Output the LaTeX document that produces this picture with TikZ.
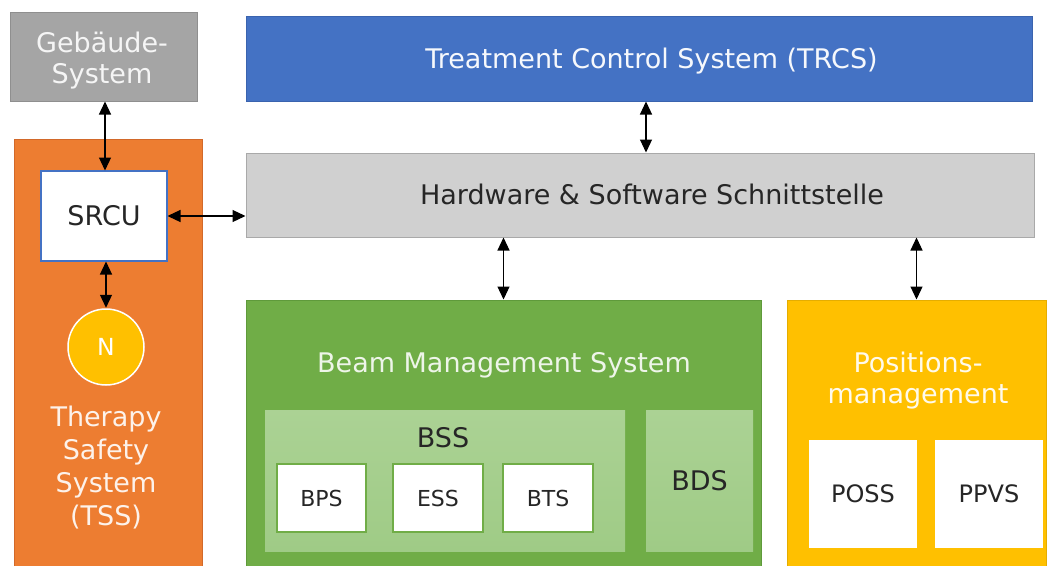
\documentclass[tikz,border=0pt]{standalone}
\usepackage{fontspec}
\setmainfont{DejaVu Sans}
\usetikzlibrary{arrows.meta}
\definecolor{cgray}{HTML}{A5A5A5}
\definecolor{cgrayd}{HTML}{8F8F8F}
\definecolor{cblue}{HTML}{4472C4}
\definecolor{cblued}{HTML}{3A63AE}
\definecolor{chw}{HTML}{D0D0D0}
\definecolor{chwd}{HTML}{A9A9A9}
\definecolor{corange}{HTML}{ED7D31}
\definecolor{coranged}{HTML}{D2692A}
\definecolor{cgreen}{HTML}{70AD47}
\definecolor{cgreend}{HTML}{5F9A3B}
\definecolor{clgreen}{HTML}{ABD294}
\definecolor{clgreenb}{HTML}{9FCB86}
\definecolor{cyellow}{HTML}{FFC000}
\definecolor{cyellowd}{HTML}{E5AD00}
\definecolor{ctext}{HTML}{262626}
\begin{document}
\begin{tikzpicture}[x=1pt,y=-1pt,
  big/.style={font=\fontsize{27}{32}\selectfont,text height=19.7pt,text depth=0pt},
  bigm/.style={font=\fontsize{27}{31.5}\selectfont},
  mid/.style={font=\fontsize{24}{29}\selectfont,text height=17.5pt,text depth=0pt},
  small/.style={font=\fontsize{22}{26}\selectfont,text height=16pt,text depth=0pt},
  box/.style={rectangle,inner sep=0pt,outer sep=0pt,align=center,line width=1pt},
  arr/.style={{Triangle[width=12pt,length=13pt]}-{Triangle[width=12pt,length=13pt]},line width=1.2pt,black,shorten <=0.5pt,shorten >=0.5pt}
]
\useasboundingbox (0,0) rectangle (1048,565);
\clip (0,0) rectangle (1048,565);
\fill[white] (0,0) rectangle (1048,565);

% top level
\node[box,fill=cgray,draw=cgrayd,minimum width=187pt,minimum height=89pt] (geb) at (103.5,56.5) {};
\node[box,bigm,text=white!92!gray,anchor=base] (geblabel) at (102,83.5) {Gebäude-\\System};
\node[box,big,fill=cblue,draw=cblued,text=white!95!cblue,minimum width=786pt,minimum height=85pt] (trcs) at (639,58.5) {\hspace*{25pt}Treatment Control System (TRCS)};
\node[box,big,fill=chw,draw=chwd,text=ctext,minimum width=788pt,minimum height=84pt] (hw) at (640,195) {\hspace*{24pt}Hardware \& Software Schnittstelle};

% TSS
\node[box,fill=corange,draw=coranged,minimum width=188pt,minimum height=441pt] (tss) at (108,359.5) {};
\node[box,big,fill=white,draw=cblue,line width=1.3pt,text=ctext,minimum width=126pt,minimum height=90pt] (srcu) at (104,216) {SRCU};
\node[circle,inner sep=0pt,font=\fontsize{23.5}{28}\selectfont,text height=17pt,text depth=0pt,fill=cyellow,draw=white,line width=1.5pt,text=white,minimum size=76pt] (n) at (106,347) {N};
\node[box,font=\fontsize{27}{32.7}\selectfont,text=white!90!corange,anchor=base] (tsslabel) at (106,525) {Therapy\\Safety\\System\\(TSS)};

% BMS
\node[box,fill=cgreen,draw=cgreend,minimum width=515pt,minimum height=280pt] (bms) at (503.5,440) {};
\node[box,bigm,text=white!88!cgreen,anchor=base] (bmslabel) at (504,372) {Beam Management System};
\node[box,top color=clgreen,bottom color=clgreenb,draw=none,minimum width=360pt,minimum height=141pt] (bss) at (445,480.5) {};
\node[box,bigm,text=ctext,anchor=base] (bsslabel) at (443,447) {BSS};
\node[box,small,fill=white,draw=cgreen,line width=1.5pt,text=ctext,minimum width=89pt,minimum height=68pt] (bps) at (321.5,498) {BPS};
\node[box,small,fill=white,draw=cgreen,line width=1.5pt,text=ctext,minimum width=90pt,minimum height=68pt] (ess) at (438,498) {ESS};
\node[box,small,fill=white,draw=cgreen,line width=1.5pt,text=ctext,minimum width=90pt,minimum height=68pt] (bts) at (548,498) {BTS};
\node[box,big,top color=clgreen,bottom color=clgreenb,draw=none,text=ctext,minimum width=107pt,minimum height=141pt] (bds) at (699.5,480.5) {BDS};

% Positionsmanagement
\node[box,fill=cyellow,draw=cyellowd,minimum width=259pt,minimum height=280pt] (pos) at (916.5,440) {};
\node[box,font=\fontsize{27}{31}\selectfont,text=white!92!cyellow,anchor=base] (poslabel) at (918,403) {Positions-\\management};
\node[box,mid,fill=white,draw=none,text=ctext,minimum width=108pt,minimum height=108pt] (poss) at (863,494) {POSS};
\node[box,mid,fill=white,draw=none,text=ctext,minimum width=108pt,minimum height=108pt] (ppvs) at (989,494) {PPVS};

% connectors
\draw[arr] ([xshift=1.5pt]geb.south) -- ([xshift=1.5pt]geb.south |- srcu.north);
\draw[arr] (srcu.east) -- (srcu.east -| hw.west);
\draw[arr] ([xshift=2pt]srcu.south) -- ([xshift=2pt]srcu.south |- n.north);
\draw[arr] ([xshift=7pt]trcs.south) -- ([xshift=6pt]hw.north);
\draw[arr] (bms.north) -- (bms.north |- hw.south);
\draw[arr] (pos.north) -- (pos.north |- hw.south);
\end{tikzpicture}
\end{document}
